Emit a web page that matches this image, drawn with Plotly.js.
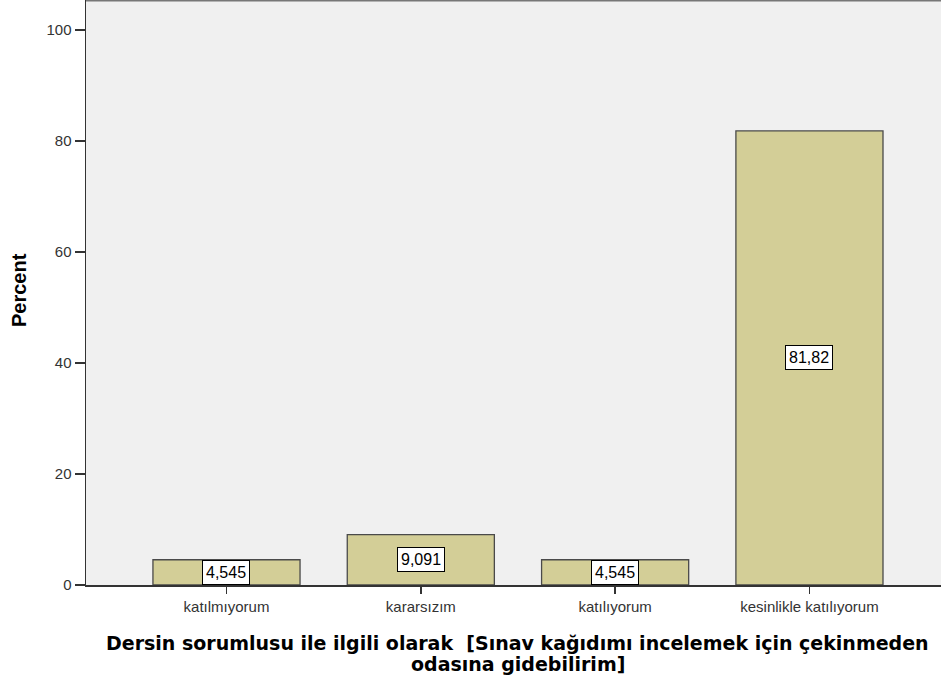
<!DOCTYPE html>
<html>
<head>
<meta charset="utf-8">
<script src="https://cdn.plot.ly/plotly-3.0.1.min.js"></script>
<style>html,body{margin:0;padding:0;background:#fff;}#chart{width:941px;height:688px;}</style>
</head>
<body>
<div id="chart"></div>
<script>
var categories = ["katılmıyorum", "kararsızım", "katılıyorum", "kesinlikle katılıyorum"];
var percents = [4.545, 9.091, 4.545, 81.82];
var valueLabels = ["4,545", "9,091", "4,545", "81,82"];
var yTicks = [0, 20, 40, 60, 80, 100];
var xTitleLines = ["Dersin sorumlusu ile ilgili olarak  [Sınav kağıdımı incelemek için çekinmeden", "odasına gidebilirim]"];
var yTitle = "Percent";

var plotLeft = 86, plotRight = 941, plotTop = 0, plotBottom = 585;
function paperY(px) { return (plotBottom - px) / (plotBottom - plotTop); }
function paperX(px) { return (px - plotLeft) / (plotRight - plotLeft); }

var trace = {
  type: "bar",
  x: [0, 1, 2, 3],
  y: percents,
  width: 0.757,
  marker: {color: "#d3ce97", line: {color: "#4a4a4a", width: 1.3}},
  hoverinfo: "skip"
};

var annotations = percents.map(function (v, i) {
  return {
    x: i, y: v / 2, xref: "x", yref: "y",
    text: valueLabels[i], showarrow: false,
    bgcolor: "#ffffff", bordercolor: "#000000", borderwidth: 1, borderpad: 3,
    font: {family: "Liberation Sans, Arial, sans-serif", size: 16, color: "#000"}
  };
});

annotations.push({
  x: 0.505, y: paperY(643), xref: "paper", yref: "paper", xanchor: "center", yanchor: "middle",
  text: xTitleLines[0], showarrow: false,
  font: {family: "DejaVu Sans, sans-serif", size: 19, color: "#000", weight: "bold"}
});
annotations.push({
  x: 0.505, y: paperY(664), xref: "paper", yref: "paper", xanchor: "center", yanchor: "middle",
  text: xTitleLines[1], showarrow: false,
  font: {family: "DejaVu Sans, sans-serif", size: 19, color: "#000", weight: "bold"}
});
annotations.push({
  x: paperX(19), y: paperY(290), xref: "paper", yref: "paper", xanchor: "center", yanchor: "middle",
  showarrow: false, text: yTitle, textangle: -90,
  font: {family: "Liberation Sans, Arial, sans-serif", size: 20, color: "#000", weight: "bold"}
});

var layout = {
  width: 941, height: 688,
  margin: {l: 86, r: 0, t: 0, b: 103},
  paper_bgcolor: "#ffffff",
  plot_bgcolor: "#f0f0f0",
  showlegend: false,
  xaxis: {
    range: [-0.723, 3.677],
    tickmode: "array",
    tickvals: [0, 1, 2, 3],
    ticktext: categories,
    ticks: "outside", ticklen: 7, tickwidth: 1.5, tickcolor: "#333",
    showgrid: false, zeroline: false,
    showline: true, linecolor: "#333", linewidth: 1.5,
    tickfont: {family: "Liberation Sans, Arial, sans-serif", size: 15, color: "#333"}
  },
  yaxis: {
    range: [0, 105.4],
    tickmode: "array",
    tickvals: yTicks,
    ticks: "outside", ticklen: 10, tickwidth: 1.5, tickcolor: "#333",
    showgrid: false, zeroline: false,
    showline: true, linecolor: "#333", linewidth: 1.5,
    tickfont: {family: "Liberation Sans, Arial, sans-serif", size: 15, color: "#333"}
  },
  annotations: annotations,
  shapes: [{
    type: "line", xref: "paper", yref: "paper", x0: 0, x1: 1, y0: 1, y1: 1,
    line: {color: "#777777", width: 3}
  }]
};

Plotly.newPlot("chart", [trace], layout, {displayModeBar: false, staticPlot: true});
</script>
</body>
</html>
